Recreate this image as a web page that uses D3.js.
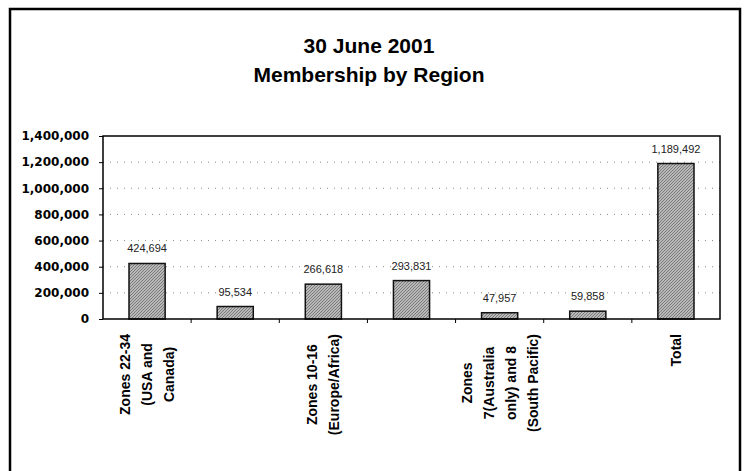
<!DOCTYPE html>
<html>
<head>
<meta charset="utf-8">
<script src="https://cdn.jsdelivr.net/npm/d3@7"></script>
<style>
  body { margin: 0; background: #fff; }
  svg { display: block; }
</style>
</head>
<body>
<div id="chart"></div>
<script>
// Data
const regionLabels = [
  ["Zones 22-34", "(USA and", "Canada)"],
  [],
  ["Zones 10-16", "(Europe/Africa)"],
  [],
  ["Zones", "7(Australia", "only) and 8", "(South Pacific)"],
  [],
  ["Total"]
];
const members = [424694, 95534, 266618, 293831, 47957, 59858, 1189492];
const yTicks = [0, 200000, 400000, 600000, 800000, 1000000, 1200000, 1400000];
const titleLines = ["30 June 2001", "Membership by Region"];

const W = 744, H = 471;
const plot = { left: 103, right: 720, top: 136, bottom: 319 };

const svg = d3.select("#chart").append("svg")
  .attr("width", W)
  .attr("height", H);

// bar texture
const defs = svg.append("defs");
const pat = defs.append("pattern")
  .attr("id", "hatch")
  .attr("patternUnits", "userSpaceOnUse")
  .attr("width", 3)
  .attr("height", 3);
pat.append("rect").attr("width", 3).attr("height", 3).attr("fill", "#b8b8b8");
pat.append("path").attr("d", "M0,3 L3,0 M-1,1 L1,-1 M2,4 L4,2")
  .attr("stroke", "#747474").attr("stroke-width", 0.9);

// outer frame (bottom edge runs off the page)
svg.append("rect")
  .attr("x", 10).attr("y", 9)
  .attr("width", 730).attr("height", 475)
  .attr("fill", "none")
  .attr("stroke", "#000")
  .attr("stroke-width", 2.5);

// === Title ===
svg.append("g")
  .selectAll("text")
  .data(titleLines)
  .join("text")
  .attr("x", 369)
  .attr("y", (d, i) => 53 + i * 29)
  .attr("text-anchor", "middle")
  .style("font-family", "'Liberation Sans', Arial, sans-serif")
  .style("font-weight", "bold")
  .style("font-size", "21px")
  .text(d => d);

// === Scales ===
const x = d3.scaleBand()
  .domain(d3.range(members.length))
  .range([plot.left, plot.right])
  .paddingInner(0.59)
  .paddingOuter(0.295);

const y = d3.scaleLinear()
  .domain([0, 1400000])
  .range([plot.bottom, plot.top]);

// === Gridlines ===
svg.append("g")
  .selectAll("line")
  .data(yTicks.filter(t => t > 0 && t < 1400000))
  .join("line")
  .attr("x1", plot.left)
  .attr("x2", plot.right)
  .attr("y1", d => y(d))
  .attr("y2", d => y(d))
  .attr("stroke", "#8a8a8a")
  .attr("stroke-width", 1)
  .attr("stroke-dasharray", "1,6");

// === Bars ===
svg.append("g")
  .selectAll("rect")
  .data(members)
  .join("rect")
  .attr("x", (d, i) => x(i))
  .attr("y", d => y(d))
  .attr("width", x.bandwidth())
  .attr("height", d => y(0) - y(d))
  .attr("fill", "url(#hatch)")
  .attr("stroke", "#111")
  .attr("stroke-width", 1.5);

// === Value labels ===
svg.append("g")
  .selectAll("text")
  .data(members)
  .join("text")
  .attr("x", (d, i) => x(i) + x.bandwidth() / 2)
  .attr("y", d => y(d) - 11)
  .attr("text-anchor", "middle")
  .style("font-family", "'Liberation Sans', Arial, sans-serif")
  .style("font-size", "11px")
  .style("fill", "#222")
  .text(d => d3.format(",")(d));

// === Y axis ===
const yAxis = svg.append("g")
  .attr("transform", `translate(${plot.left},0)`)
  .call(d3.axisLeft(y).tickValues(yTicks).tickFormat(d3.format(",")).tickSize(4).tickPadding(10));
yAxis.select(".domain").remove();
yAxis.selectAll("line").attr("stroke", "#000");
yAxis.selectAll("text")
  .style("font-family", "'DejaVu Sans', Verdana, sans-serif")
  .style("font-weight", "bold")
  .style("font-size", "12px")
  .attr("fill", "#000");

// === X axis ticks at band edges ===
const edges = d3.range(1, members.length).map(i => x(i) - x.step() * x.paddingInner() / 2);
svg.append("g")
  .selectAll("line")
  .data(edges)
  .join("line")
  .attr("x1", d => d).attr("x2", d => d)
  .attr("y1", plot.bottom).attr("y2", plot.bottom + 4)
  .attr("stroke", "#000");

// plot box
svg.append("rect")
  .attr("x", plot.left).attr("y", plot.top)
  .attr("width", plot.right - plot.left)
  .attr("height", plot.bottom - plot.top)
  .attr("fill", "none")
  .attr("stroke", "#000")
  .attr("stroke-width", 1.5);

// === Category labels (rotated, every other one shown) ===
const lineGap = 22;
const catG = svg.append("g")
  .style("font-family", "'Liberation Sans', Arial, sans-serif")
  .style("font-weight", "bold")
  .style("font-size", "14px");

regionLabels.forEach((lines, i) => {
  if (!lines.length) return;
  const cx = x(i) + x.bandwidth() / 2;
  const g = catG.append("g");
  const texts = g.selectAll("text")
    .data(lines)
    .join("text")
    .attr("text-anchor", "middle")
    .text(d => d);
  const maxW = d3.max(texts.nodes(), n => n.getComputedTextLength());
  const mid = 334 + maxW / 2;
  texts.attr("transform", (d, j) => {
    const lx = cx + (j - (lines.length - 1) / 2) * lineGap + 5;
    return `translate(${lx},${mid}) rotate(-90)`;
  });
});
</script>
</body>
</html>
